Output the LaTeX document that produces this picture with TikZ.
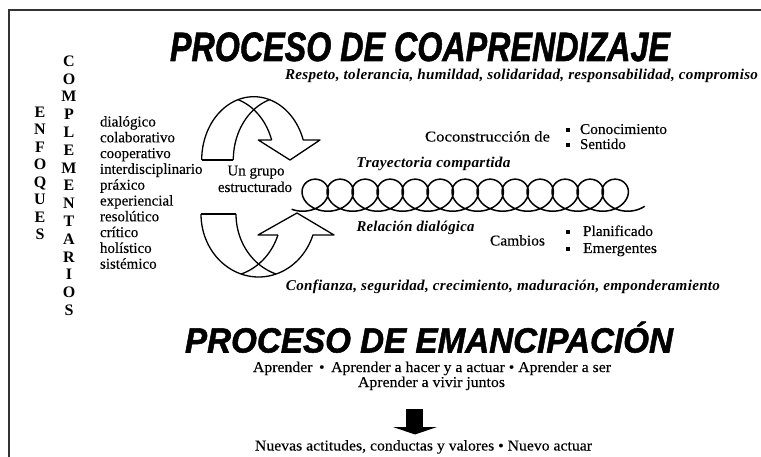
\documentclass[tikz,border=0pt]{standalone}
\usepackage{fontspec}
\setmainfont{Liberation Serif}
\newfontfamily\hdfont{Liberation Sans}
\newcommand\fitto[2]{\resizebox{#1}{\height}{#2}}
\begin{document}
\begin{tikzpicture}[x=1pt,y=-1pt,
  every node/.style={inner sep=0pt,outer sep=0pt},
  frame/.style={draw=black!80,line width=1.3pt},
  title/.style={font=\hdfont\bfseries\itshape\addfontfeature{FakeBold=1.5}},
  bi/.style={font=\fontsize{15}{15}\selectfont\bfseries\itshape\addfontfeature{LetterSpace=2}},
  rm/.style={font=\fontsize{15}{15}\selectfont\addfontfeature{FakeBold=0.25}},
  capl/.style={font=\fontsize{16}{16}\selectfont\bfseries},
  sq/.style={fill=black,minimum size=4pt},
  ribbon/.style={draw=black,line width=1.3pt,line join=round},
  coil/.style={draw=black,line width=1.5pt}]
\useasboundingbox (0,0) rectangle (761,457);
% frame
\draw[frame] (9,460) -- (9,10) -- (765,10);
% titles
\node[title,anchor=base] (t1) at (420,61) {\fitto{500pt}{\fontsize{41}{41}\selectfont PROCESO DE COAPRENDIZAJE}};
\node[title,anchor=base] (t2) at (429,352.5) {\fitto{488pt}{\fontsize{35}{35}\selectfont PROCESO DE EMANCIPACIÓN}};
% italic lines
\node[bi,anchor=base] (resp) at (521.5,79.5) {\fitto{473pt}{Respeto, tolerancia, humildad, solidaridad, responsabilidad, compromiso}};
\node[bi,anchor=base] (conf) at (503,291) {\fitto{434pt}{Confianza, seguridad, crecimiento, maduración, emponderamiento}};
\node[bi,anchor=base] (tray) at (433.5,168) {\fitto{154pt}{Trayectoria compartida}};
\node[bi,anchor=base] (rel) at (415.5,232) {\fitto{118pt}{Relación dialógica}};
% right texts
\node[rm,anchor=base] (cocon) at (487.5,141.5) {\fitto{125pt}{Coconstrucción de}};
\node[sq] (bq1) at (568,130) {};
\node[sq] (bq2) at (568,145) {};
\node[rm,anchor=base west] (conoc) at (580,134) {\fitto{87pt}{Conocimiento}};
\node[rm,anchor=base west] (sent) at (580,149) {Sentido};
\node[rm,anchor=base] (camb) at (517.5,245.5) {\fitto{55pt}{Cambios}};
\node[sq] (bq3) at (568,232) {};
\node[sq] (bq4) at (568,249) {};
\node[rm,anchor=base west] (plan) at (583,236) {\fitto{70pt}{Planificado}};
\node[rm,anchor=base west] (emer) at (583,253) {\fitto{74pt}{Emergentes}};
% group label
\node[rm,anchor=base] (ung) at (256,175.5) {Un grupo};
\node[rm,anchor=base] (estr) at (255,192) {estructurado};
% left list
\foreach \w [count=\i from 0] in {dialógico,colaborativo,cooperativo,interdisciplinario,práxico,experiencial,resolútico,crítico,holístico,sistémico}
  \node[rm,anchor=base west] (w\i) at (100,126.5+15.8*\i) {\w};
% vertical words
\foreach \l [count=\i from 0] in {E,N,F,O,Q,U,E,S}
  \node[capl,anchor=base] (e\i) at (40,117.3+17.5*\i) {\l};
\foreach \l [count=\i from 0] in {C,O,M,P,L,E,M,E,N,T,A,R,I,O,S}
  \node[capl,anchor=base] (c\i) at (69,66.3+17.8*\i) {\l};
% bottom texts
\node[rm,anchor=base] (apr1) at (432,372) {\fitto{358pt}{Aprender \,•\, Aprender a hacer y a actuar • Aprender a ser}};
\node[rm,anchor=base] (apr2) at (431.5,387) {\fitto{147pt}{Aprender a vivir juntos}};
\node[rm,anchor=base] (nuev) at (423.5,450.5) {\fitto{337pt}{Nuevas actitudes, conductas y valores • Nuevo actuar}};
% bottom block arrow
\fill (406,409) rectangle (423,427.5);
\fill (393,427) -- (437,427) -- (415,434.5) -- cycle;
% upper curved arrow
\draw[ribbon] (201.7,160) -- (233.3,160);
\draw[ribbon] plot[domain=180:18.4,samples=70,variable=\a] ({253.8+52.1*cos(\a)},{160-63.3*sin(\a)})
  -- (320,140) -- (290,160) -- (258.3,140) -- (271.6,140);
\draw[ribbon] plot[domain=18.4:72.4,samples=30,variable=\a] ({222.2+52.1*cos(\a)},{160-63.3*sin(\a)});
\draw[ribbon] plot[domain=180:107.6,samples=30,variable=\a] ({285.4+52.1*cos(\a)},{160-63.3*sin(\a)});
% lower curved arrow
\draw[ribbon] (201,214) -- (236,214);
\draw[ribbon] plot[domain=180:19.5,samples=70,variable=\a] ({258.6+57.6*cos(\a)},{214+63*sin(\a)})
  -- (334,235) -- (297,213) -- (258,235) -- (277.9,235);
\draw[ribbon] plot[domain=19.5:72.3,samples=30,variable=\a] ({223.6+57.6*cos(\a)},{214+63*sin(\a)});
\draw[ribbon] plot[domain=180:107.7,samples=30,variable=\a] ({293.6+57.6*cos(\a)},{214+63*sin(\a)});
% coil
\draw[coil] plot[domain=-0.5:82.5,samples=900,variable=\t] ({302.7+3.979*\t+19*sin(\t r)},{195.2+16*cos(\t r)});
\end{tikzpicture}
\end{document}
